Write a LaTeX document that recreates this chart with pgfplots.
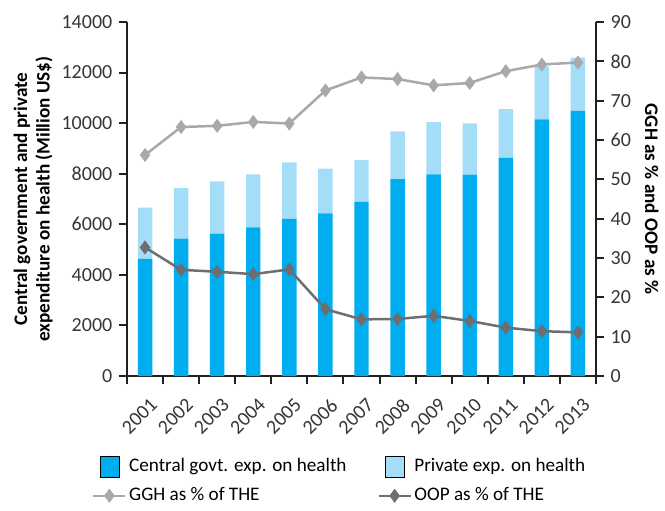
\documentclass[border=0pt]{standalone}
\usepackage{pgfplots}
\pgfplotsset{compat=1.18}
\usepackage{fontspec}
\setmainfont{Carlito}
\definecolor{govt}{HTML}{00ADEF}
\definecolor{priv}{HTML}{A4DDF7}
\definecolor{ggh}{HTML}{A7A9AC}
\definecolor{oop}{HTML}{6D6E71}
\definecolor{axisc}{HTML}{231F20}
\begin{document}
\fontsize{11.5}{13.5}\selectfont
\begin{tikzpicture}
% page frame: 665 x 510 px at 0.6pt/px, axis box at the origin
\useasboundingbox (-76.2pt,-80.4pt) rectangle (322.8pt,225.6pt);
\pgfplotsset{
  every axis/.append style={
    at={(0pt,0pt)}, anchor=south west,
    scale only axis, width=281.4pt, height=212.4pt,
    xmin=0.5, xmax=13.5,
    axis line style={line width=1.2pt, color=axisc},
    tick style={line width=1.2pt, color=axisc},
    tick align=outside, major tick length=4.8pt,
    scaled y ticks=false,
    /pgf/number format/assume math mode=true,
    /pgf/number format/1000 sep={},
    tick label style={color=axisc!90, font=\fontsize{12}{14}\selectfont},
  },
  sqlegend/.style={legend image code/.code={\fill[##1] (3.9pt,-6.3pt) rectangle (15.3pt,6.3pt);}},
  linelegend/.style={legend image code/.code={\draw[mark repeat=2, mark phase=2, ##1] plot coordinates {(0pt,0pt) (9.6pt,0pt) (19.2pt,0pt)};}},
}
% bars: central govt and private expenditure (Million US$)
\begin{axis}[
  ybar stacked, bar width=0.4,
  ymin=0, ymax=14000, ytick={0,2000,...,14000},
  axis x line*=bottom, axis y line*=left,
  xtick={0.5,1.5,...,13.5}, xticklabels={},
  extra x ticks={1,2,...,13},
  extra x tick labels={2001,2002,2003,2004,2005,2006,2007,2008,2009,2010,2011,2012,2013},
  extra x tick style={major tick length=0pt},
  xticklabel style={xshift=2.4pt, yshift=-12.5pt, rotate=45, anchor=north east, inner sep=0pt},
  ylabel={Central government and private\\expenditure on health (Million US\$)},
  ylabel style={font=\bfseries, align=center, at={(axis description cs:-0.2,0.5)}, anchor=center},
]
\addplot[fill=govt, draw=none] coordinates {
  (1,4630) (2,5430) (3,5630) (4,5880) (5,6210) (6,6430) (7,6890)
  (8,7790) (9,7970) (10,7960) (11,8630) (12,10150) (13,10490)};
\addplot[fill=priv, draw=none] coordinates {
  (1,2030) (2,2000) (3,2070) (4,2090) (5,2240) (6,1770) (7,1650)
  (8,1885) (9,2070) (10,2030) (11,1925) (12,2095) (13,2100)};
\end{axis}
% lines: GGH and OOP as % of THE
\begin{axis}[
  ymin=0, ymax=90, ytick={0,10,...,90},
  axis y line*=right, axis x line=none,
  ylabel={GGH as \% and OOP as \%},
  ylabel style={font=\bfseries, rotate=180, at={(axis description cs:1.119,0.5)}, anchor=center},
  legend columns=2, legend cell align=left,
  legend style={draw=none, fill=none, inner sep=0pt, at={(axis description cs:-0.075,-0.222)}, anchor=north west,
    nodes={inner xsep=1.5pt},
    /tikz/every even column/.append style={column sep=17pt}, /tikz/row sep=4pt},
]
\addlegendimage{sqlegend, fill=govt}
\addlegendentry{Central govt. exp. on health}
\addlegendimage{sqlegend, fill=priv}
\addlegendentry{Private exp. on health}
\addplot[ggh, line width=1.5pt, mark=diamond*, mark size=3pt, linelegend] coordinates {
  (1,56.2) (2,63.3) (3,63.6) (4,64.6) (5,64.2) (6,72.6) (7,75.9)
  (8,75.5) (9,73.9) (10,74.5) (11,77.5) (12,79.2) (13,79.7)};
\addlegendentry{GGH as \% of THE}
\addplot[oop, line width=1.5pt, mark=diamond*, mark size=3pt, linelegend] coordinates {
  (1,32.7) (2,27.0) (3,26.5) (4,25.9) (5,27.1) (6,17.0) (7,14.4)
  (8,14.5) (9,15.3) (10,14.0) (11,12.3) (12,11.4) (13,11.1)};
\addlegendentry{OOP as \% of THE}
\end{axis}
\end{tikzpicture}
\end{document}
